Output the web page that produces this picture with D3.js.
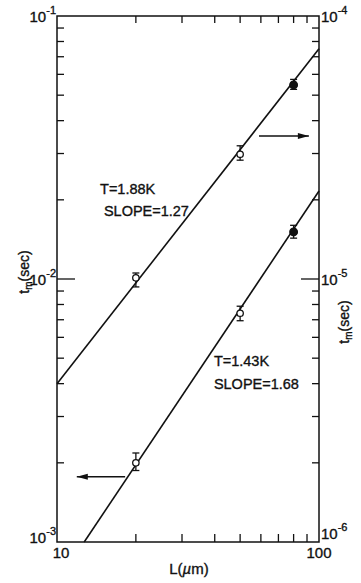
<!DOCTYPE html>
<html>
<head>
<meta charset="utf-8">
<script src="https://cdn.jsdelivr.net/npm/d3@7"></script>
<style>
  html, body { margin: 0; padding: 0; background: #fff; }
  svg { display: block; }
  text { font-family: "Liberation Sans", Arial, sans-serif; fill: #111; stroke: #111; stroke-width: 0.35px; }
</style>
</head>
<body>
<script>
// ---------- data ----------
const lengths = [20, 50, 80];                     // L (µm)
// T = 1.88 K (read on right axis)
const highT = [1.01e-5, 2.98e-5, 5.47e-5];
const highLo = [9.33e-6, 2.83e-5, 5.26e-5];
const highHi = [1.054e-5, 3.21e-5, 5.74e-5];
// T = 1.43 K (read on left axis)
const lowT = [2.0e-3, 7.41e-3, 1.51e-2];
const lowLo = [1.87e-3, 6.94e-3, 1.43e-2];
const lowHi = [2.18e-3, 7.88e-3, 1.60e-2];
const filled = [false, false, true];
// fitted lines
const highFitL = [10, 100], highFitT = [4.0e-6, 7.5e-5];
const lowFitL = [12.7, 100], lowFitT = [1.0e-3, 2.16e-2];
// axis ticks
const xMajor = [10, 100];
const xMinor = [20, 30, 40, 50, 60, 70, 80, 90];
const leftMajor = [1e-1, 1e-2, 1e-3];
const leftExp = ["-1", "-2", "-3"];
const rightMajor = [1e-4, 1e-5, 1e-6];
const rightExp = ["-4", "-5", "-6"];
const mantissas = [2, 3, 4, 5, 6, 7, 8, 9];
// annotations
const labelHigh = ["T=1.88K", "SLOPE=1.27"];
const labelLow = ["T=1.43K", "SLOPE=1.68"];

// ---------- layout ----------
const W = 361, H = 583;
const m = { left: 57, right: 42, top: 16, bottom: 41 };
const x0 = m.left, x1 = W - m.right, y0 = m.top, y1 = H - m.bottom;

const svg = d3.select("body").append("svg").attr("width", W).attr("height", H);

const x = d3.scaleLog().domain([10, 100]).range([x0, x1]);
const yL = d3.scaleLog().domain([1e-3, 1e-1]).range([y1, y0]);
const yR = d3.scaleLog().domain([1e-6, 1e-4]).range([y1, y0]);

const ink = "#111";

// frame
svg.append("rect").attr("x", x0).attr("y", y0).attr("width", x1 - x0).attr("height", y1 - y0)
  .attr("fill", "none").attr("stroke", ink).attr("stroke-width", 1.5);

// minor ticks y (both sides)
function yMinorVals(dom) {
  const out = [];
  const lo = Math.round(Math.log10(dom[0])), hi = Math.round(Math.log10(dom[1]));
  for (let e = lo; e < hi; e++) mantissas.forEach(k => out.push(k * Math.pow(10, e)));
  return out;
}
const g = svg.append("g").attr("stroke", ink).attr("stroke-width", 1.3);
yMinorVals(yL.domain()).forEach(v => {
  g.append("line").attr("x1", x0).attr("x2", x0 + 7).attr("y1", yL(v)).attr("y2", yL(v));
});
yMinorVals(yR.domain()).forEach(v => {
  g.append("line").attr("x1", x1).attr("x2", x1 - 7).attr("y1", yR(v)).attr("y2", yR(v));
});
// major inner ticks
g.append("line").attr("x1", x0).attr("x2", x0 + 18).attr("y1", yL(1e-2)).attr("y2", yL(1e-2));
g.append("line").attr("x1", x1).attr("x2", x1 - 18).attr("y1", yR(1e-5)).attr("y2", yR(1e-5));
// x minor ticks top & bottom
xMinor.forEach(v => {
  g.append("line").attr("x1", x(v)).attr("x2", x(v)).attr("y1", y0).attr("y2", y0 + 7);
  g.append("line").attr("x1", x(v)).attr("x2", x(v)).attr("y1", y1).attr("y2", y1 - 8);
});

// tick labels
const fs = 15, sfs = 11;
leftMajor.forEach((v, i) => {
  const t = svg.append("text").attr("x", x0 - 1).attr("y", yL(v) + (i === leftMajor.length - 1 ? 1 : 6))
    .attr("text-anchor", "end").attr("font-size", fs);
  t.append("tspan").text("10");
  t.append("tspan").attr("font-size", sfs).attr("dy", -8).text(leftExp[i]);
});
rightMajor.forEach((v, i) => {
  const t = svg.append("text").attr("x", x1 + 2).attr("y", yR(v) + (i === rightMajor.length - 1 ? -3 : 6))
    .attr("font-size", fs);
  t.append("tspan").text("10");
  t.append("tspan").attr("font-size", sfs).attr("dy", -8).text(rightExp[i]);
});
xMajor.forEach(v => {
  svg.append("text").attr("x", x(v) + (v === 10 ? 4 : 0)).attr("y", y1 + 16)
    .attr("text-anchor", "middle").attr("font-size", fs).text(String(v));
});

// axis titles
const xt = svg.append("text").attr("x", (x0 + x1) / 2 + 1).attr("y", y1 + 32)
  .attr("text-anchor", "middle").attr("font-size", fs);
xt.append("tspan").text("L(");
xt.append("tspan").attr("font-style", "italic").text("µ");
xt.append("tspan").text("m)");

function yTitle(px, py) {
  const t = svg.append("text").attr("transform", `translate(${px},${py}) rotate(-90)`)
    .attr("text-anchor", "middle").attr("font-size", 14);
  t.append("tspan").text("t");
  t.append("tspan").attr("font-size", 10).attr("dy", 3).text("m");
  t.append("tspan").attr("dy", -3).text("(sec)");
}
yTitle(29, 272);
yTitle(349, 322);

// fit lines
const lineL = d3.line().x(d => x(d[0])).y(d => yL(d[1]));
const lineR = d3.line().x(d => x(d[0])).y(d => yR(d[1]));
svg.append("path").attr("d", lineR(highFitL.map((l, i) => [l, highFitT[i]])))
  .attr("fill", "none").attr("stroke", ink).attr("stroke-width", 1.6);
svg.append("path").attr("d", lineL(lowFitL.map((l, i) => [l, lowFitT[i]])))
  .attr("fill", "none").attr("stroke", ink).attr("stroke-width", 1.6);

// points with error bars
function drawPoints(vals, lo, hi, ys) {
  lengths.forEach((l, i) => {
    const cx = x(l);
    const gg = svg.append("g").attr("stroke", ink).attr("stroke-width", 1.3);
    gg.append("line").attr("x1", cx).attr("x2", cx).attr("y1", ys(lo[i])).attr("y2", ys(hi[i]));
    [lo[i], hi[i]].forEach(v => gg.append("line").attr("x1", cx - 3.5).attr("x2", cx + 3.5)
      .attr("y1", ys(v)).attr("y2", ys(v)));
    gg.append("circle").attr("cx", cx).attr("cy", ys(vals[i])).attr("r", filled[i] ? 3.8 : 3.2)
      .attr("fill", filled[i] ? ink : "#fff");
  });
}
drawPoints(highT, highLo, highHi, yR);
drawPoints(lowT, lowLo, lowHi, yL);

// arrows
function arrow(xa, xb, yv, dir) {
  svg.append("line").attr("x1", xa).attr("x2", xb).attr("y1", yv).attr("y2", yv)
    .attr("stroke", ink).attr("stroke-width", 1.5);
  const tip = dir > 0 ? xb : xa;
  const base = tip - dir * 11;
  svg.append("path").attr("d", `M${tip},${yv} L${base},${yv - 3} L${base},${yv + 3} Z`).attr("fill", ink);
}
arrow(x(59), x(91.5), yR(3.5e-5), 1);
arrow(x(11.9), x(18.2), yL(1.77e-3), -1);

// annotations
svg.append("text").attr("x", x(14.6)).attr("y", yR(2.10e-5)).attr("font-size", 14.5).text(labelHigh[0]);
svg.append("text").attr("x", x(15.1)).attr("y", yR(1.74e-5)).attr("font-size", 14.5).text(labelHigh[1]);
svg.append("text").attr("x", x(39.7)).attr("y", yL(4.65e-3)).attr("font-size", 14.5).text(labelLow[0]);
svg.append("text").attr("x", x(39.7)).attr("y", yL(3.81e-3)).attr("font-size", 14.5).text(labelLow[1]);
</script>
</body>
</html>
